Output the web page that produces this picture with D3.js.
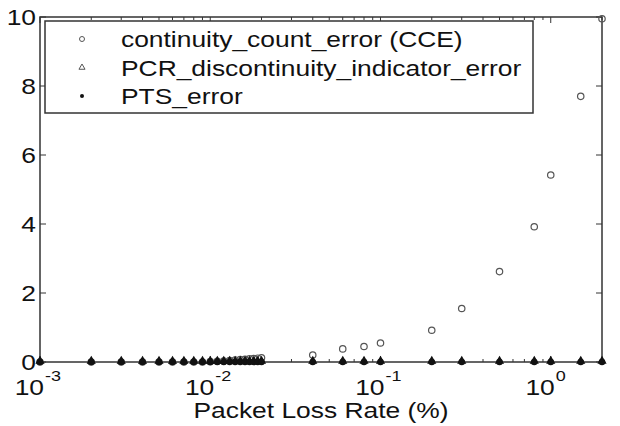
<!DOCTYPE html>
<html>
<head>
<meta charset="utf-8">
<script src="https://cdn.jsdelivr.net/npm/d3@7"></script>
<style>
  body { margin: 0; background: #fff; }
  text { font-family: "Liberation Sans", Arial, sans-serif; fill: #111; }
</style>
</head>
<body>
<div id="chart"></div>
<script>
// packet loss rate (%) and error counts
var lossRate = [0.001, 0.002, 0.003, 0.004, 0.005, 0.006, 0.007, 0.008, 0.009,
    0.010, 0.011, 0.012, 0.013, 0.014, 0.015, 0.016, 0.017, 0.018, 0.019, 0.020,
    0.04, 0.06, 0.08, 0.1,
    0.2, 0.3, 0.5, 0.8, 1.0, 1.5, 2.0];
var cceValues = [0, 0, 0, 0, 0, 0, 0, 0, 0,
    0.01, 0.02, 0.03, 0.04, 0.06, 0.07, 0.08, 0.09, 0.10, 0.11, 0.12,
    0.20, 0.38, 0.45, 0.55,
    0.92, 1.55, 2.62, 3.92, 5.42, 7.70, 9.95];
var pcrValues = [0, 0, 0, 0, 0, 0, 0, 0, 0,
    0, 0, 0, 0, 0, 0, 0, 0, 0, 0, 0,
    0, 0, 0, 0,
    0, 0, 0, 0, 0, 0, 0];
var ptsValues = [0, 0, 0, 0, 0, 0, 0, 0, 0,
    0, 0, 0, 0, 0, 0, 0, 0, 0, 0, 0,
    0, 0, 0, 0,
    0, 0, 0, 0, 0, 0, 0];
var seriesNames = ["continuity_count_error (CCE)", "PCR_discontinuity_indicator_error", "PTS_error"];
var xTickExp = [-3, -2, -1, 0];
var yTicks = [0, 2, 4, 6, 8, 10];

var width = 620, height = 426;
var margin = {top: 17, right: 18, bottom: 64, left: 40};
var axisColor = "#333";
var stretch = 1.2;   // the scanned figure is wider than plain Arial

var svg = d3.select("#chart").append("svg")
    .attr("width", width)
    .attr("height", height);

// text placed at (px,py) and stretched sideways
function addText(parent, px, py, str, size, anchor) {
    return parent.append("text")
        .attr("transform", "translate(" + px + "," + py + ") scale(" + stretch + ",1)")
        .attr("text-anchor", anchor || "start")
        .style("font-size", size + "px")
        .text(str);
}

var x = d3.scaleLog()
    .domain([0.001, 2])
    .range([margin.left, width - margin.right]);
var y = d3.scaleLinear()
    .domain([0, 10])
    .range([height - margin.bottom, margin.top]);

var x0 = x.range()[0], x1 = x.range()[1];
var y0 = y.range()[0], y1 = y.range()[1];

// frame
svg.append("rect")
    .attr("x", x0).attr("y", y1)
    .attr("width", x1 - x0).attr("height", y0 - y1)
    .attr("fill", "none")
    .attr("stroke", axisColor)
    .attr("stroke-width", 1.5);

// x ticks (major + log minor), inward on bottom and top
var minor = [];
xTickExp.forEach(function (e) {
    for (var k = 2; k <= 9; k++) {
        var v = k * Math.pow(10, e);
        if (v <= 2) minor.push(v);
    }
});
var gt = svg.append("g").attr("stroke", axisColor).attr("stroke-width", 1);
xTickExp.forEach(function (e) {
    var px = x(Math.pow(10, e));
    gt.append("line").attr("x1", px).attr("x2", px).attr("y1", y0).attr("y2", y0 - 6);
    gt.append("line").attr("x1", px).attr("x2", px).attr("y1", y1).attr("y2", y1 + 6);
});
minor.forEach(function (v) {
    var px = x(v);
    gt.append("line").attr("x1", px).attr("x2", px).attr("y1", y0).attr("y2", y0 - 3);
    gt.append("line").attr("x1", px).attr("x2", px).attr("y1", y1).attr("y2", y1 + 3);
});
yTicks.forEach(function (t) {
    var py = y(t);
    gt.append("line").attr("x1", x0).attr("x2", x0 + 6).attr("y1", py).attr("y2", py);
    gt.append("line").attr("x1", x1).attr("x2", x1 - 6).attr("y1", py).attr("y2", py);
});

// y tick labels
var yl = svg.append("g");
yTicks.forEach(function (t) {
    addText(yl, x0 - 4, y(t) + 8, t, 22, "end");
});

// x tick labels 10^e
var xl = svg.append("g");
xTickExp.forEach(function (e) {
    var px = x(Math.pow(10, e));
    addText(xl, px + 4, y0 + 33, "10", 22, "end");
    addText(xl, px + 5, y0 + 19, e, 15, "start");
});

// axis title
addText(svg, (x0 + x1) / 2, 418, "Packet Loss Rate (%)", 22, "middle");

// markers
var tri = d3.symbol().type(d3.symbolTriangle).size(22);

var pts = svg.append("g");
pts.selectAll("circle.cce")
    .data(lossRate)
    .enter()
    .append("circle")
    .attr("class", "cce")
    .attr("cx", function (d) { return x(d); })
    .attr("cy", function (d, i) { return y(cceValues[i]); })
    .attr("r", 3.2)
    .attr("fill", "none")
    .attr("stroke", "#555")
    .attr("stroke-width", 1.2);
pts.selectAll("path.pcr")
    .data(lossRate)
    .enter()
    .append("path")
    .attr("class", "pcr")
    .attr("d", tri)
    .attr("transform", function (d, i) { return "translate(" + x(d) + "," + (y(pcrValues[i]) - 1) + ")"; })
    .attr("fill", "#111")
    .attr("stroke", "#111")
    .attr("stroke-width", 1.2);
pts.selectAll("circle.pts")
    .data(lossRate)
    .enter()
    .append("circle")
    .attr("class", "pts")
    .attr("cx", function (d) { return x(d); })
    .attr("cy", function (d, i) { return y(ptsValues[i]); })
    .attr("r", 3.3)
    .attr("fill", "#111");

// legend
var lg = svg.append("g");
lg.append("rect")
    .attr("x", 45).attr("y", 21)
    .attr("width", 488).attr("height", 92)
    .attr("fill", "#fff")
    .attr("stroke", axisColor)
    .attr("stroke-width", 1.5);
seriesNames.forEach(function (name, i) {
    var ry = 39 + i * 28.5;
    if (i === 0) {
        lg.append("circle").attr("cx", 82).attr("cy", ry).attr("r", 2.5)
            .attr("fill", "none").attr("stroke", "#555").attr("stroke-width", 1);
    } else if (i === 1) {
        lg.append("path").attr("d", d3.symbol().type(d3.symbolTriangle).size(16))
            .attr("transform", "translate(82," + ry + ")")
            .attr("fill", "none").attr("stroke", "#555").attr("stroke-width", 1);
    } else {
        lg.append("circle").attr("cx", 82).attr("cy", ry).attr("r", 2)
            .attr("fill", "#111");
    }
    addText(lg, 121, ry + 8, name, 22, "start");
});
</script>
</body>
</html>
